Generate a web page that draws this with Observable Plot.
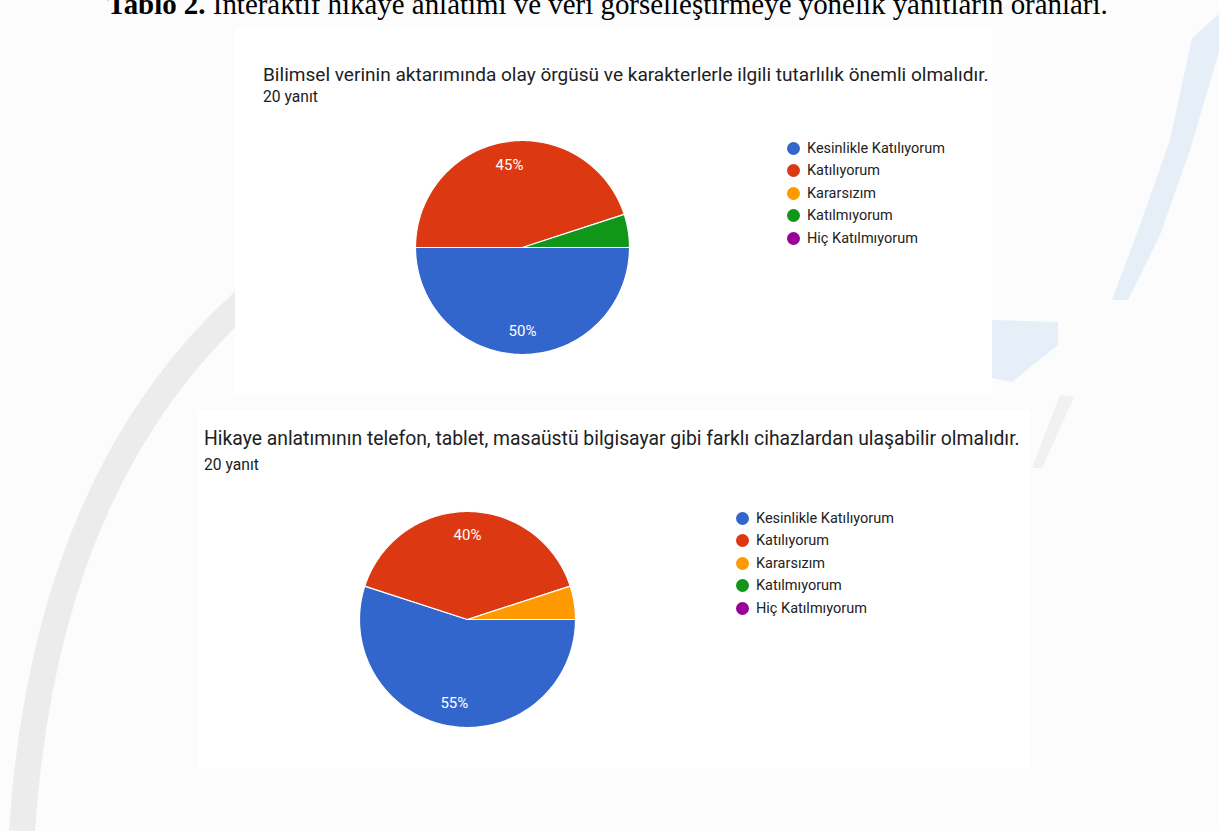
<!DOCTYPE html>
<html>
<head>
<meta charset="utf-8">
<script src="https://cdn.jsdelivr.net/npm/d3@7"></script>
<script src="https://cdn.jsdelivr.net/npm/@observablehq/plot@0.6"></script>
<style>
html, body { margin: 0; padding: 0; }
body { width: 1219px; height: 831px; overflow: hidden; background: #fcfcfc; position: relative; font-family: Roboto, "Noto Sans", sans-serif; }
#bg { position: absolute; left: 0; top: 0; }
.txt { position: absolute; white-space: nowrap; line-height: 1; margin: 0; }
#doc-title { font-family: "Liberation Serif", "Times New Roman", serif; color: #000; font-size: 25px; }
.panel { position: absolute; background: #fff; }
.ptitle { color: #202124; font-size: 17px; }
.psub { color: #202124; font-size: 15px; }
.pie { position: absolute; }
.legend { position: absolute; font-size: 14.5px; color: #222; }
.legend .item { height: 22.5px; display: flex; align-items: center; white-space: nowrap; }
.legend .sw { width: 13px; height: 13px; border-radius: 50%; margin-right: 7.5px; flex: none; }
</style>
</head>
<body>
<svg id="bg" width="1219" height="831">
  <path d="M 245 300 Q 45 480 22 831" fill="none" stroke="#ececec" stroke-width="26"/>
  <polygon points="1192,38 1219,14 1219,52 1190,150 1160,235 1128,300 1112,300 1140,225 1170,140" fill="#e6eff8"/>
  <polygon points="992,320 1058,322 1058,345 1012,382 992,378" fill="#e6eff8"/>
  <polygon points="1060,395 1074,397 1042,468 1032,468" fill="#f1f1f1"/>
</svg>
<div id="root"></div>
<script>
// ---------- data ----------
const categories = ["Kesinlikle Katılıyorum", "Katılıyorum", "Kararsızım", "Katılmıyorum", "Hiç Katılmıyorum"];
const colors = ["#3366cc", "#dc3912", "#ff9900", "#109618", "#990099"];
const docTitleBold = "Tablo 2.";
const docTitleRest = " İnteraktif hikaye anlatımı ve veri görselleştirmeye yönelik yanıtların oranları.";
const questions = [
  "Bilimsel verinin aktarımında olay örgüsü ve karakterlerle ilgili tutarlılık önemli olmalıdır.",
  "Hikaye anlatımının telefon, tablet, masaüstü bilgisayar gibi farklı cihazlardan ulaşabilir olmalıdır."
];
const responseCounts = ["20 yanıt", "20 yanıt"];
const percents1 = [50, 45, 0, 5, 0];
const percents2 = [55, 40, 5, 0, 0];

// ---------- layout (page pixels) ----------
const layout = [
  { panel: [235, 28, 757, 367], title: [263, 81, 726], sub: [263, 102, 55], pie: [522, 247, 107], legend: [793, 148] },
  { panel: [197, 410, 833, 359], title: [204, 445, 816], sub: [204, 470, 55], pie: [467, 619, 108], legend: [742, 518] }
];

const body = document.body;

function placeText(el, left, baseline, targetWidth, ascentRatio) {
  body.appendChild(el);
  el.style.left = left + "px";
  if (targetWidth) {
    const w = el.getBoundingClientRect().width;
    const fs = parseFloat(getComputedStyle(el).fontSize);
    el.style.fontSize = (fs * targetWidth / w) + "px";
  }
  const fs2 = parseFloat(getComputedStyle(el).fontSize);
  el.style.top = (baseline - ascentRatio * fs2) + "px";
}

// document title (cut off at top in the original)
{
  const t = document.createElement("div");
  t.className = "txt";
  t.id = "doc-title";
  const b = document.createElement("b");
  b.textContent = docTitleBold;
  t.appendChild(b);
  t.appendChild(document.createTextNode(docTitleRest));
  placeText(t, 107, 14, 1001, 0.8375);
}

function pieGeometry(values) {
  const arcs = d3.pie().sort(null).startAngle(Math.PI / 2).endAngle(Math.PI / 2 + 2 * Math.PI)(values);
  const pts = [], labels = [];
  arcs.forEach((a, i) => {
    if (a.value <= 0) return;
    const cat = categories[i];
    const n = Math.max(2, Math.ceil((a.endAngle - a.startAngle) / (Math.PI / 180)));
    pts.push({ cat, x: 0, y: 0 });
    for (let k = 0; k <= n; k++) {
      const t = a.startAngle + (a.endAngle - a.startAngle) * k / n;
      pts.push({ cat, x: Math.sin(t), y: Math.cos(t) });
    }
    const m = (a.startAngle + a.endAngle) / 2;
    if (a.value >= 10) labels.push({ cat, x: 0.78 * Math.sin(m), y: 0.78 * Math.cos(m), label: a.value + "%" });
  });
  return { pts, labels };
}

[percents1, percents2].forEach((vals, qi) => {
  const L = layout[qi];
  const panel = document.createElement("div");
  panel.className = "panel";
  Object.assign(panel.style, { left: L.panel[0] + "px", top: L.panel[1] + "px", width: L.panel[2] + "px", height: L.panel[3] + "px" });
  body.appendChild(panel);

  const title = document.createElement("div");
  title.className = "txt ptitle";
  title.textContent = questions[qi];
  placeText(title, L.title[0], L.title[1], L.title[2], 0.842);

  const sub = document.createElement("div");
  sub.className = "txt psub";
  sub.textContent = responseCounts[qi];
  placeText(sub, L.sub[0], L.sub[1], L.sub[2], 0.842);

  const r = L.pie[2], m = 3, size = 2 * r + 2 * m;
  const { pts, labels } = pieGeometry(vals);
  const chart = Plot.plot({
    width: size, height: size, margin: m,
    style: { fontFamily: "Roboto, sans-serif", fontSize: "15px", background: "transparent", overflow: "visible" },
    x: { domain: [-1, 1], axis: null },
    y: { domain: [-1, 1], axis: null },
    color: { domain: categories, range: colors },
    marks: [
      Plot.line(pts, { x: "x", y: "y", z: "cat", fill: "cat", stroke: "#ffffff", strokeWidth: 1.2, curve: "linear-closed" }),
      Plot.text(labels, { x: "x", y: "y", text: "label", fill: "#ffffff", fontSize: 15 })
    ]
  });
  chart.classList.add("pie");
  chart.style.left = (L.pie[0] - size / 2) + "px";
  chart.style.top = (L.pie[1] - size / 2) + "px";
  chart.style.maxWidth = "none";
  body.appendChild(chart);

  const leg = d3.select(body).append("div").attr("class", "legend")
    .style("left", (L.legend[0] - 6.5) + "px").style("top", (L.legend[1] - 11.25) + "px");
  const items = leg.selectAll(".item").data(categories).join("div").attr("class", "item");
  items.append("span").attr("class", "sw").style("background", (d, i) => colors[i]);
  items.append("span").text(d => d);
});
</script>
</body>
</html>
